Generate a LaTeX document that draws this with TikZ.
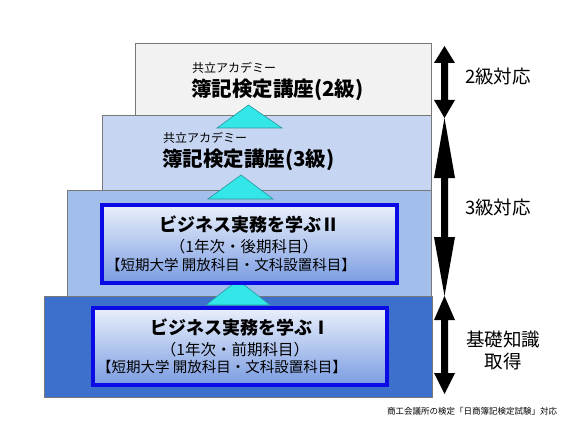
\documentclass[tikz,border=0pt]{standalone}
\usepackage{fontspec}
\setmainfont{Noto Sans CJK JP}[BoldFont={Noto Sans CJK JP Black}]
\definecolor{lay1}{RGB}{242,242,242}
\definecolor{lay2}{RGB}{198,214,242}
\definecolor{lay3}{RGB}{162,191,236}
\definecolor{lay4}{RGB}{60,112,204}
\definecolor{laybd}{RGB}{120,120,120}
\definecolor{boxbd}{RGB}{10,10,230}
\definecolor{boxtop}{RGB}{234,240,251}
\definecolor{boxbot}{RGB}{122,156,226}
\definecolor{tri}{RGB}{51,230,232}
\definecolor{tribd}{RGB}{40,150,160}
\begin{document}
\begin{tikzpicture}[x=1pt,y=-1pt,
  layer/.style={draw=laybd,line width=0.8pt,inner sep=0pt,outer sep=0pt,anchor=north west},
  inbox/.style={draw=boxbd,line width=3.5pt,inner sep=0pt,outer sep=0pt,anchor=north west,top color=boxtop,bottom color=boxbot},
  tribox/.style={fill=tri,draw=tribd,line width=0.6pt},
  small/.style={font=\fontsize{12}{12}\selectfont,anchor=west,inner sep=0pt},
  title/.style={font=\fontsize{20.5}{20.5}\selectfont\bfseries,anchor=west,inner sep=0pt},
  btitle/.style={font=\fontsize{18}{18}\selectfont\bfseries,inner sep=0pt},
  bline/.style={font=\fontsize{15.5}{15.5}\selectfont,inner sep=0pt},
  bline2/.style={font=\fontsize{14.5}{14.5}\selectfont,inner sep=0pt},
  side/.style={font=\fontsize{18.5}{18.5}\selectfont,inner sep=0pt},
  arr/.style={fill=black}
]
\useasboundingbox (0,0) rectangle (587,436);
\fill[white] (0,0) rectangle (587,436);
% layers
\node[layer,fill=lay4,minimum width=388pt,minimum height=101pt] (L4) at (44,296) {};
\node[layer,fill=lay3,minimum width=364pt,minimum height=106pt] (L3) at (67,190) {};
\node[layer,fill=lay2,minimum width=329pt,minimum height=75pt] (L2) at (102,115) {};
\node[layer,fill=lay1,minimum width=296pt,minimum height=72pt] (L1) at (135,43) {};
% triangles
\draw[tribox] (217,128) -- (248.5,105) -- (282,128) -- cycle;
\draw[tribox] (208,199) -- (241,175) -- (273,199) -- cycle;
\draw[tribox] (206,305) -- (238,280) -- (270,305) -- cycle;
% top texts
\node[small] (t1a) at (192,67.5) {共立アカデミー};
\node[title] (t1b) at (191,90) {簿記検定講座(2級)};
\node[small] (t2a) at (163,138) {共立アカデミー};
\node[title] (t2b) at (162,160) {簿記検定講座(3級)};
% inner boxes
\node[inbox,minimum width=295pt,minimum height=78pt] (B2) at (102,205) {};
\node[inbox,minimum width=294pt,minimum height=77pt] (B1) at (93,308) {};
\node[btitle] (b2a) at (249,225) {ビジネス実務を学ぶⅡ};
\node[bline] (b2b) at (244,247) {（1年次・後期科目）};
\node[bline2] (b2c) at (231,265) {【短期大学 開放科目・文科設置科目】};
\node[btitle] (b1a) at (240,328) {ビジネス実務を学ぶⅠ};
\node[bline] (b1b) at (235,350) {（1年次・前期科目）};
\node[bline2] (b1c) at (222,367) {【短期大学 開放科目・文科設置科目】};
% side arrows
\fill[arr] (444.5,46) -- (455,63) -- (448,63) -- (448,100) -- (455,100) -- (444.5,118)
  -- (434,100) -- (441,100) -- (441,63) -- (434,63) -- cycle;
\fill[arr] (444.5,118) -- (455,178) -- (448,178) -- (448,237) -- (455,237) -- (444.5,296)
  -- (434,237) -- (441,237) -- (441,178) -- (434,178) -- cycle;
\fill[arr] (444.5,296) -- (455,320) -- (448,320) -- (448,373) -- (455,373) -- (444.5,394)
  -- (434,373) -- (441,373) -- (441,320) -- (434,320) -- cycle;
\node[side,anchor=west] (s1) at (465,76) {2級対応};
\node[side,anchor=west] (s2) at (465,207) {3級対応};
\node[side] (s3) at (503,340) {基礎知識};
\node[side] (s4) at (503,361) {取得};
% footer
\node[font=\fontsize{8.5}{8.5}\selectfont,anchor=west,inner sep=0pt] (ft) at (387,411.5) {商工会議所の検定「日商簿記検定試験」対応};
\end{tikzpicture}
\end{document}
